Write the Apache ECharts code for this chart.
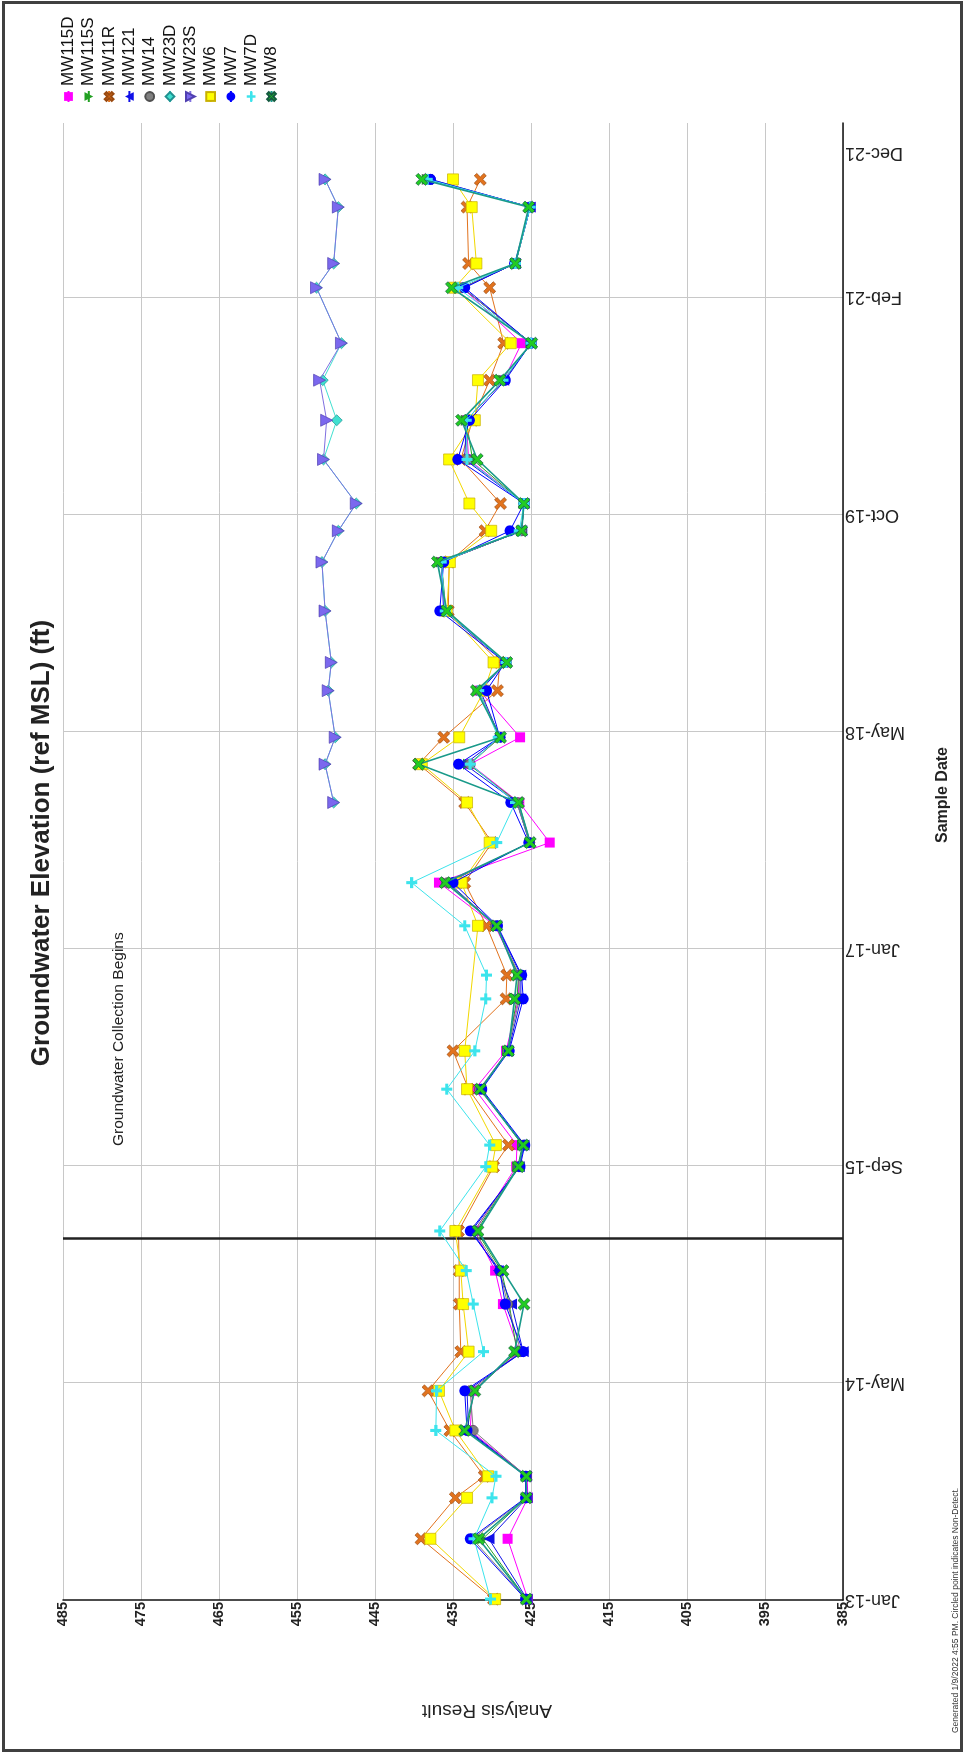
<!DOCTYPE html>
<html><head><meta charset="utf-8">
<script src="https://cdn.jsdelivr.net/npm/echarts@6/dist/echarts.min.js"></script>
<style>
html,body{margin:0;padding:0;background:#fff;overflow:hidden;width:964px;height:1754px;}
#wrap{position:absolute;left:0;top:0;width:1754px;height:964px;transform-origin:0 0;transform:translate(0px,1754px) rotate(-90deg);}
#chart{width:1754px;height:964px;}
#frame{position:absolute;left:2px;top:1px;width:961px;height:1751px;box-sizing:border-box;border:3px solid #404040;pointer-events:none;}
</style></head><body>
<div id="wrap"><div id="chart"></div></div>
<div id="frame"></div>
<script>
// ---------------- data ----------------
const sampleDates = ['2013-01-03','2013-05-20','2013-08-21','2013-10-09','2014-01-21','2014-04-21','2014-07-19','2014-11-04',
 '2015-01-19','2015-04-19','2015-09-12','2015-10-31','2016-03-06','2016-06-01','2016-09-27','2016-11-20',
 '2017-03-12','2017-06-18','2017-09-17','2017-12-17','2018-03-14','2018-05-14','2018-08-28','2018-10-31',
 '2019-02-25','2019-06-16','2019-08-26','2019-10-27','2020-02-04','2020-05-03','2020-08-02','2020-10-25',
 '2021-02-28','2021-04-24','2021-08-30','2021-11-01'];

const MW115D = [425.4,428.0,425.4,425.5,432.8,432.5,426.5,428.6,429.6,432.2,426.9,426.8,432.2,428.2,426.6,426.6,
 429.6,436.8,422.6,426.5,432.8,426.4,431.6,428.2,436.0,436.5,426.2,425.9,433.0,433.3,428.5,426.2,433.8,427.0,425.1,438.3];
const MW115S = [425.6,431.2,425.6,425.6,433.2,432.3,426.8,427.8,428.8,432.0,426.7,426.1,431.4,428.0,426.8,426.6,
 429.5,435.8,425.1,426.6,433.0,428.9,431.8,428.2,435.9,436.5,426.2,425.9,432.5,433.3,428.5,425.0,433.8,427.0,425.1,438.3];
const MW11R = [429.8,439.1,434.7,431.0,435.4,438.2,434.0,434.2,434.2,434.3,429.8,427.9,433.0,435.0,428.2,428.1,
 430.7,433.5,430.0,433.5,439.4,436.2,429.3,429.0,435.6,435.5,430.9,428.9,434.0,432.5,430.3,428.5,430.3,433.0,433.2,431.5];
const MW121 = [425.5,430.4,425.5,425.6,433.0,433.2,426.0,427.5,429.2,432.6,426.5,425.9,431.5,427.9,426.3,426.3,
 429.4,435.6,425.2,426.8,433.5,429.0,431.5,428.2,436.2,436.5,426.2,425.9,433.5,433.3,428.5,425.0,433.8,427.0,425.1,438.3];
const MW14 = [425.6,432.5,425.6,425.6,432.4,432.8,426.3,428.0,429.0,432.3,426.6,426.0,431.6,428.0,426.5,426.5,
 429.5,435.7,425.2,426.8,432.8,429.0,431.7,428.2,436.0,436.5,426.2,425.9,433.2,433.3,428.5,425.0,433.8,427.0,425.1,437.9];
const MW23D = [null,null,null,null,null,null,null,null,null,null,null,null,null,null,null,null,null,null,null,
 450.3,451.4,450.1,451.0,450.6,451.4,451.8,449.7,447.4,451.6,449.9,451.7,449.3,452.5,450.3,449.7,451.4];
const MW23S = [null,null,null,null,null,null,null,null,null,null,null,null,null,null,null,null,null,null,null,
 450.3,451.4,450.1,451.0,450.6,451.4,451.8,449.7,447.4,451.6,451.2,452.1,449.3,452.5,450.3,449.7,451.4];
const MW6 = [429.6,437.9,433.2,430.5,434.7,436.8,433.0,433.7,434.0,434.7,430.0,429.5,433.2,433.5,null,null,
 431.8,433.9,430.3,433.2,439.0,434.2,431.0,429.8,435.8,435.4,430.1,432.9,435.5,432.2,431.8,427.6,434.8,432.0,432.6,435.0];
const MW7 = [425.7,432.8,425.7,425.7,433.2,433.5,426.0,428.3,429.0,432.8,426.4,425.8,431.3,427.8,426.0,426.2,
 429.3,435.0,425.3,427.6,434.3,429.0,430.7,428.3,436.7,436.2,427.7,425.9,434.4,432.9,428.3,425.0,433.5,427.1,425.1,437.9];
const MW7D = [430.2,432.3,430.0,429.5,437.2,437.1,431.1,432.4,433.3,436.7,430.8,430.3,435.8,432.2,430.8,430.7,
 433.5,440.3,429.4,427.0,432.8,429.2,431.7,428.2,436.0,436.5,426.5,425.9,433.2,433.3,428.6,425.0,434.4,427.0,425.1,438.3];
const MW8 = [425.6,431.7,425.6,425.6,433.5,432.2,427.1,425.9,428.6,431.8,426.6,426.0,431.5,427.9,427.1,426.8,
 429.4,436.0,425.1,426.6,439.4,428.9,432.0,428.1,435.8,437.0,426.2,425.9,431.9,433.9,429.0,424.9,435.2,427.0,425.3,439.0];

const wellNames = ['MW115D','MW115S','MW11R','MW121','MW14','MW23D','MW23S','MW6','MW7','MW7D','MW8'];
const wellValues = [MW115D,MW115S,MW11R,MW121,MW14,MW23D,MW23S,MW6,MW7,MW7D,MW8];

const valueTicks = [385,395,405,415,425,435,445,455,465,475,485];
const dateAxisStart = '2013-01-01';
const dateAxisEnd = '2022-03-09';
const dateTickDays = 493;
const dateLabelExtra = '2021-12-31';       // "Dec-21" end label
const collectionDate = '2015-04-01';
const collectionText = 'Groundwater Collection Begins';
const collectionTextAnchor = ['2015-10-29', 477.8];

// ---------------- helpers ----------------
const DAY = 86400000;
const ts = s => { const p = s.split('-').map(Number); return Date.UTC(p[0], p[1]-1, p[2]); };
const MON = ['Jan','Feb','Mar','Apr','May','Jun','Jul','Aug','Sep','Oct','Nov','Dec'];
const fmtDate = v => { const d = new Date(v); return MON[d.getUTCMonth()] + '-' + String(d.getUTCFullYear() % 100).padStart(2,'0'); };
const T0 = ts(dateAxisStart), T1 = ts(dateAxisEnd), STEP = dateTickDays * DAY;
const labelValues = [];
for (let t = T0; t < ts(dateLabelExtra) - 100*DAY; t += STEP) labelValues.push(t);
labelValues.push(ts(dateLabelExtra));

const FONT = '"Liberation Sans", Arial, Helvetica, sans-serif';
const X_PATH = 'path://M2,0 L5,3 L8,0 L10,2 L7,5 L10,8 L8,10 L5,7 L2,10 L0,8 L3,5 L0,2 Z';
const PLUS_PATH = 'path://M3.6,0 H6.4 V3.6 H10 V6.4 H6.4 V10 H3.6 V6.4 H0 V3.6 H3.6 Z';

const styles = {
  MW115D:{symbol:'rect', size:10, color:'#FF00FF', line:'#FF00FF'},
  MW115S:{symbol:'triangle', rot:180, size:11, color:'#22A022', line:'#22A022'},
  MW11R:{symbol:X_PATH, size:12, color:'#E2731E', line:'#E2731E', border:'#9a4a10'},
  MW121:{symbol:'triangle', size:11, color:'#1010E8', line:'#1010E8'},
  MW14:{symbol:'circle', size:10, color:'#808080', line:'#808080', border:'#505050'},
  MW23D:{symbol:'diamond', size:11, color:'#40E0D0', line:'#40E0D0', border:'#209090'},
  MW23S:{symbol:'triangle', rot:180, size:12, color:'#7B68EE', line:'#8070E0', border:'#5040B0'},
  MW6:{symbol:'rect', size:11, color:'#FFFF00', line:'#F2D800', border:'#C8B000'},
  MW7:{symbol:'circle', size:11, color:'#0000FF', line:'#0000FF'},
  MW7D:{symbol:PLUS_PATH, size:11, color:'#3CE4EC', line:'#3CE4EC'},
  MW8:{symbol:X_PATH, size:12, color:'#22CC22', line:'#1A9A8A', border:'#145A40', lw:1.6}
};

const series = wellNames.map((name, i) => {
  const st = styles[name];
  const s = {
    name, type:'line', connectNulls:true, animation:false,
    symbol: st.symbol, symbolSize: st.size, symbolRotate: st.rot || 0,
    showAllSymbol:true,
    data: sampleDates.map((d, k) => [ts(d), wellValues[i][k]]),
    lineStyle:{color: st.line, width: st.lw || 1},
    itemStyle:{color: st.color, borderColor: st.border || st.color, borderWidth: st.border ? 0.7 : 0},
    emphasis:{disabled:true}, z: 2 + i
  };
  if (name === 'MW8') {
    s.markLine = { silent:true, symbol:['none','none'], animation:false,
      lineStyle:{color:'#222', width:2.5, type:'solid'}, label:{show:false},
      data:[{xAxis: ts(collectionDate)}] };
    s.markPoint = { silent:true, animation:false, symbol:'circle', symbolSize:0,
      label:{show:true, position:'right', distance:0, formatter: collectionText,
             fontFamily:FONT, fontSize:15.5, color:'#222'},
      data:[{coord:[ts(collectionTextAnchor[0]), collectionTextAnchor[1]]}] };
  }
  return s;
});

const chart = echarts.init(document.getElementById('chart'), null, {renderer:'canvas'});
chart.setOption({
  animation:false,
  backgroundColor:'#fff',
  textStyle:{fontFamily:FONT},
  grid:{left:154, right:123, top:63, bottom:121, containLabel:false},
  legend:{
    orient:'vertical', left:1646, top:55, itemWidth:11, itemHeight:11, itemGap:3.3,
    data: wellNames, selectedMode:false,
    textStyle:{fontFamily:FONT, fontSize:17, color:'#111'}
  },
  xAxis:{
    type:'value', min:T0, max:T1, interval:STEP,
    axisLine:{show:true, onZero:false, lineStyle:{color:'#111', width:1.5}},
    axisTick:{show:false},
    splitLine:{show:true, showMinLine:false, showMaxLine:false, lineStyle:{color:'#c8c8c8', width:1}},
    axisLabel:{customValues: labelValues, formatter: fmtDate, rotate:90, margin:2,
               fontFamily:FONT, fontSize:18, color:'#222'}
  },
  yAxis:{
    type:'value', min:valueTicks[0], max:valueTicks[valueTicks.length-1], interval:valueTicks[1]-valueTicks[0],
    axisLine:{show:true, onZero:false, lineStyle:{color:'#111', width:1.5}},
    axisTick:{show:false},
    splitLine:{show:true, lineStyle:{color:'#c8c8c8', width:1}},
    axisLabel:{margin:2, fontFamily:FONT, fontSize:14.5, fontWeight:'bold', color:'#222'}
  },
  graphic:[
    {type:'text', x:911, y:42, style:{text:'Groundwater Elevation (ref MSL) (ft)', align:'center', verticalAlign:'middle',
      font:'bold 26px ' + FONT, fill:'#222'}},
    {type:'text', x:44, y:487, rotation:Math.PI/2, style:{text:'Analysis Result', align:'center', verticalAlign:'middle',
      font:'19px ' + FONT, fill:'#222'}},
    {type:'text', x:959, y:943, style:{text:'Sample Date', align:'center', verticalAlign:'middle',
      font:'bold 16px ' + FONT, fill:'#222'}},
    {type:'text', x:21, y:956, style:{text:'Generated 1/9/2022 4:55 PM. Circled point indicates Non-Detect.', align:'left', verticalAlign:'middle',
      font:'8.5px ' + FONT, fill:'#333'}}
  ],
  series
});
</script>
</body></html>
